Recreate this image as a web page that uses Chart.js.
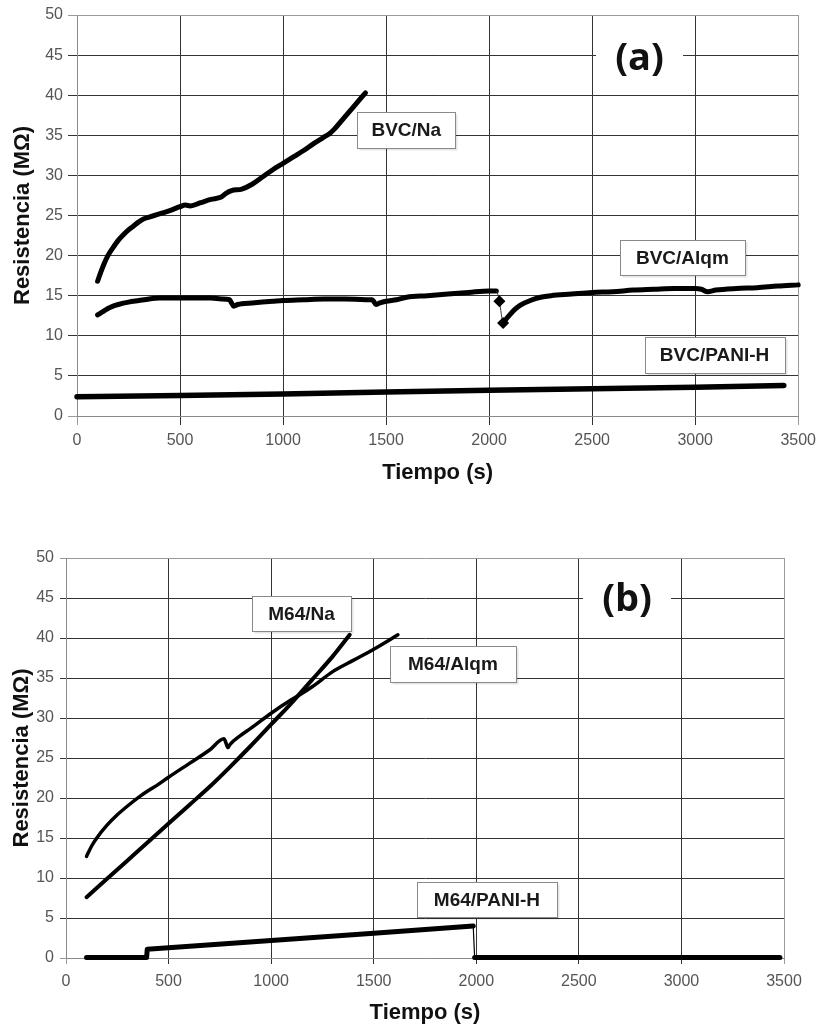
<!DOCTYPE html>
<html>
<head>
<meta charset="utf-8">
<script src="https://cdn.jsdelivr.net/npm/chart.js@4.4.1/dist/chart.umd.min.js"></script>
<style>
  html, body { margin: 0; padding: 0; background: #fff; }
  #wrap { position: relative; width: 822px; height: 1027px; }
  .panel { position: absolute; left: 0; width: 822px; }
  #pa { top: 0; height: 500px; }
  #pb { top: 500px; height: 527px; }
</style>
</head>
<body>
<div id="wrap">
  <div class="panel" id="pa"><canvas id="chartA"></canvas></div>
  <div class="panel" id="pb"><canvas id="chartB"></canvas></div>
</div>
<script>
// ---- Axis ranges ----
const timeMin = 0, timeMax = 3500, timeStep = 500;
const resMin = 0, resMax = 50, resStep = 5;

// ---- Panel (a): BVC films ----
const namesA = ['BVC/Na', 'BVC/Alqm', 'BVC/PANI-H'];

const bvcNaTime = [100, 115, 130, 150, 175, 200, 225, 250, 275, 300, 325, 350, 375, 400, 450, 500, 525, 550, 600, 650, 700, 725, 750, 800, 850, 900, 950, 1000, 1050, 1100, 1150, 1200, 1225, 1250, 1300, 1350, 1400];
const bvcNaRes  = [16.8, 17.9, 18.9, 20.0, 21.0, 21.9, 22.6, 23.2, 23.7, 24.2, 24.6, 24.8, 25.0, 25.2, 25.6, 26.1, 26.3, 26.2, 26.6, 27.0, 27.3, 27.8, 28.1, 28.3, 28.9, 29.8, 30.7, 31.5, 32.3, 33.1, 34.0, 34.8, 35.2, 35.8, 37.3, 38.8, 40.3];

const bvcAlqmTime = [100, 125, 150, 175, 200, 250, 300, 350, 400, 450, 500, 550, 600, 650, 700, 740, 750, 760, 780, 800, 850, 900, 950, 1000, 1100, 1200, 1300, 1400, 1430, 1440, 1450, 1470, 1500, 1550, 1600, 1700, 1800, 1900, 2000, 2035, 2050, 2068, 2080, 2100, 2125, 2150, 2200, 2250, 2300, 2400, 2500, 2600, 2700, 2800, 2900, 3000, 3030, 3060, 3100, 3200, 3300, 3400, 3500];
const bvcAlqmRes  = [12.6, 13.0, 13.4, 13.7, 13.9, 14.2, 14.4, 14.6, 14.7, 14.7, 14.7, 14.7, 14.7, 14.7, 14.6, 14.5, 14.1, 13.7, 13.9, 14.0, 14.1, 14.2, 14.3, 14.4, 14.5, 14.6, 14.6, 14.5, 14.5, 14.3, 13.9, 14.1, 14.3, 14.5, 14.8, 15.0, 15.2, 15.4, 15.6, 15.6, 14.3, 11.6, 12.0, 12.6, 13.3, 13.8, 14.4, 14.8, 15.0, 15.2, 15.4, 15.5, 15.7, 15.8, 15.9, 15.9, 15.8, 15.5, 15.7, 15.9, 16.0, 16.2, 16.35];

const bvcPaniTime = [0, 500, 1000, 1500, 2000, 2500, 3000, 3430];
const bvcPaniRes  = [2.4, 2.55, 2.75, 3.0, 3.2, 3.4, 3.6, 3.8];

// ---- Panel (b): M64 films ----
const namesB = ['M64/Na', 'M64/Alqm', 'M64/PANI-H'];

const m64NaTime = [100, 200, 300, 400, 500, 600, 700, 800, 900, 1000, 1100, 1200, 1300, 1383];
const m64NaRes  = [7.6, 9.9, 12.2, 14.5, 16.8, 19.1, 21.4, 23.9, 26.5, 29.2, 31.9, 34.8, 37.7, 40.4];

const m64AlqmTime = [100, 125, 150, 200, 250, 300, 360, 400, 450, 500, 600, 700, 770, 775, 790, 800, 850, 900, 1000, 1100, 1140, 1200, 1300, 1400, 1500, 1618];
const m64AlqmRes  = [12.7, 14.0, 15.0, 16.6, 17.9, 19.0, 20.2, 20.9, 21.7, 22.6, 24.3, 26.0, 27.4, 27.2, 26.3, 26.7, 27.8, 28.7, 30.6, 32.3, 32.9, 33.9, 35.8, 37.2, 38.6, 40.4];

const m64PaniTime = [100, 393, 396, 1000, 1500, 1985, 1992, 3480];
const m64PaniRes  = [0.05, 0.05, 1.1, 2.2, 3.1, 4.0, 0.05, 0.05];

// ---- helpers ----
const pairs = (t, r) => t.map((x, i) => ({ x: x, y: r[i] }));
const FONT = '"Liberation Sans", Arial, Helvetica, sans-serif';

// Callout boxes and the panel letter, anchored in data units
const calloutPlugin = {
  id: 'callouts',
  afterDatasetsDraw(chart, args, opts) {
    const ctx = chart.ctx;
    const xs = chart.scales.x, ys = chart.scales.y;
    ctx.save();
    ctx.textAlign = 'center';
    ctx.textBaseline = 'middle';
    if (opts.panel) {
      const p = opts.panel;
      const cx = xs.getPixelForValue(p.x), cy = ys.getPixelForValue(p.y);
      ctx.fillStyle = '#fff';
      ctx.fillRect(cx - p.w / 2, cy - p.h / 2, p.w, p.h);
      ctx.fillStyle = '#111';
      ctx.font = 'bold 38px "Open Sans", Lato, sans-serif';
      ctx.fillText(p.text, cx, cy);
    }
    (opts.boxes || []).forEach(b => {
      const cx = xs.getPixelForValue(b.x), cy = ys.getPixelForValue(b.y);
      const l = Math.round(cx - b.w / 2) + 0.5, t = Math.round(cy - b.h / 2) + 0.5;
      ctx.fillStyle = 'rgba(0,0,0,0.10)';
      ctx.fillRect(l + 2, t + 2, b.w, b.h);
      ctx.fillStyle = '#fff';
      ctx.fillRect(l, t, b.w, b.h);
      ctx.strokeStyle = '#8a8a8a';
      ctx.lineWidth = 1;
      ctx.strokeRect(l, t, b.w, b.h);
      ctx.fillStyle = '#1a1a1a';
      ctx.font = 'bold 19px ' + FONT;
      ctx.fillText(b.text, cx, cy + 1);
    });
    ctx.restore();
  }
};

function lineSet(label, t, r, width, extra) {
  return Object.assign({
    label: label,
    data: pairs(t, r),
    borderColor: '#000',
    backgroundColor: '#000',
    borderWidth: width,
    pointRadius: 0,
    cubicInterpolationMode: 'monotone',
    borderJoinStyle: 'round',
    borderCapStyle: 'round',
    clip: false
  }, extra || {});
}

function makeChart(id, datasets, g, callouts) {
  return new Chart(document.getElementById(id), {
    type: 'line',
    data: { datasets: datasets },
    plugins: [calloutPlugin],
    options: {
      responsive: true,
      maintainAspectRatio: false,
      animation: false,
      layout: { padding: { top: g.top, right: g.right, bottom: 0, left: 0 } },
      plugins: {
        legend: { display: false },
        tooltip: { enabled: false },
        callouts: callouts
      },
      scales: {
        x: {
          type: 'linear',
          min: timeMin, max: timeMax,
          afterFit: s => { s.height = g.xHeight; },
          ticks: {
            stepSize: timeStep,
            color: '#555',
            padding: g.xTickPad,
            font: { family: FONT, size: 16 },
            callback: v => String(v),
            maxRotation: 0
          },
          grid: {
            color: c => (c.tick && (c.tick.value === timeMin || c.tick.value === timeMax)) ? '#9a9a9a' : '#333',
            lineWidth: 1,
            tickLength: g.tickLen
          },
          border: { color: '#8a8a8a', width: 1 },
          title: {
            display: true,
            text: 'Tiempo (s)',
            color: '#111',
            font: { family: FONT, size: 22, weight: 'bold' },
            padding: { top: 0, bottom: g.xTitlePad }
          }
        },
        y: {
          type: 'linear',
          min: resMin, max: resMax,
          afterFit: s => { s.width = g.yWidth; },
          ticks: {
            stepSize: resStep,
            color: '#555',
            padding: g.yTickPad,
            font: { family: FONT, size: 16 },
            callback: v => String(v)
          },
          grid: {
            color: c => (c.tick && (c.tick.value === resMin || c.tick.value === resMax)) ? '#9a9a9a' : '#333',
            lineWidth: 1,
            tickLength: g.tickLen
          },
          border: { color: '#8a8a8a', width: 1 },
          title: {
            display: true,
            text: 'Resistencia (M\u03A9)',
            color: '#111',
            font: { family: FONT, size: 22, weight: 'bold' },
            padding: { top: g.yTitlePad, bottom: 0 }
          }
        }
      }
    }
  });
}

// Panel (a)
makeChart('chartA', [
  lineSet(namesA[0], bvcNaTime, bvcNaRes, 5),
  lineSet(namesA[1], bvcAlqmTime, bvcAlqmRes, 5, {
    pointRadius: c => (c.raw && (c.raw.x === 2050 || c.raw.x === 2068)) ? 2.5 : 0,
    pointStyle: 'rectRot',
    segment: {
      borderWidth: c => (c.p0.parsed.x >= 2035 && c.p1.parsed.x <= 2068) ? 1 : undefined,
      borderColor: c => (c.p0.parsed.x >= 2035 && c.p1.parsed.x <= 2068) ? '#334' : undefined
    }
  }),
  lineSet(namesA[2], bvcPaniTime, bvcPaniRes, 5.5, { cubicInterpolationMode: 'default', tension: 0 })
], { top: 15, right: 20, xHeight: 84, yWidth: 77, tickLen: 9, xTickPad: 6, yTickPad: 5, xTitlePad: 14, yTitlePad: 10 }, {
  panel: { text: '(a)', x: 2730, y: 44.5, w: 87, h: 58 },
  boxes: [
    { text: namesA[0], x: 1598, y: 35.66, w: 98, h: 36 },
    { text: namesA[1], x: 2938, y: 19.76, w: 125, h: 35 },
    { text: namesA[2], x: 3094, y: 7.6, w: 140, h: 36 }
  ]
});

// Panel (b)
makeChart('chartB', [
  lineSet(namesB[0], m64NaTime, m64NaRes, 4),
  lineSet(namesB[1], m64AlqmTime, m64AlqmRes, 3.5),
  lineSet(namesB[2], m64PaniTime, m64PaniRes, 5, {
    cubicInterpolationMode: 'default', tension: 0,
    segment: {
      borderWidth: c => Math.abs(c.p1.parsed.y - c.p0.parsed.y) > 2 ? 1.2 : undefined
    }
  })
], { top: 58, right: 38, xHeight: 69, yWidth: 66, tickLen: 6, xTickPad: 8, yTickPad: 6, xTitlePad: 1, yTitlePad: 9 }, {
  panel: { text: '(b)', x: 2735, y: 44.75, w: 88, h: 58 },
  boxes: [
    { text: namesB[0], x: 1148, y: 43.06, w: 99, h: 35 },
    { text: namesB[1], x: 1886, y: 36.75, w: 126, h: 36 },
    { text: namesB[2], x: 2052, y: 7.31, w: 140, h: 35 }
  ]
});
</script>
</body>
</html>
